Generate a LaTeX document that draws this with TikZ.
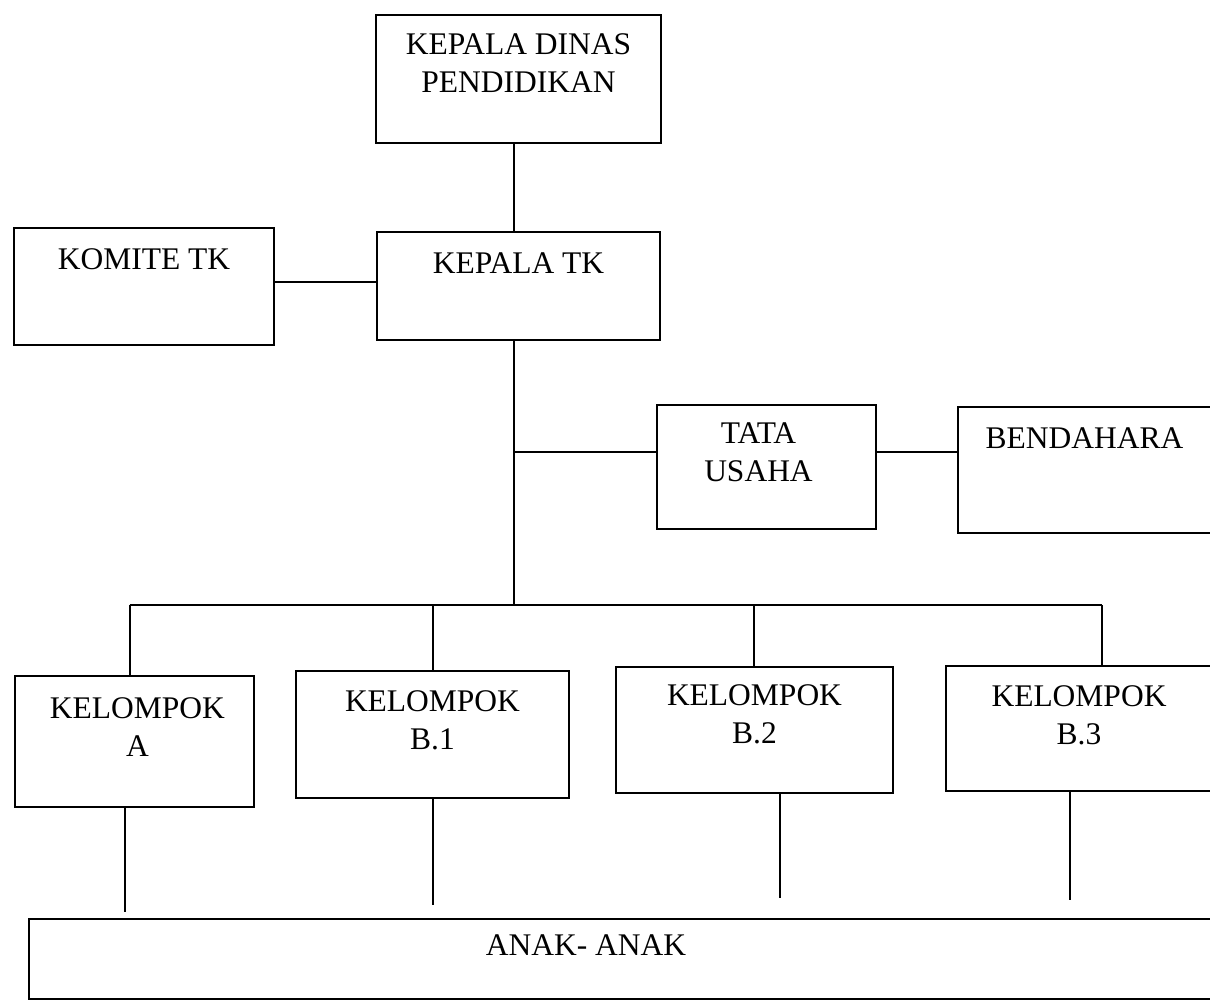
\documentclass[tikz,border=0pt]{standalone}
\usepackage{fontspec}
\setmainfont{Liberation Serif}
\usetikzlibrary{positioning}

\begin{document}
\begin{tikzpicture}[x=1pt, y=-1pt,
  box/.style={rectangle, draw, line width=2pt, anchor=north west, inner sep=0pt},
  lbl/.style={anchor=north, yshift=-21pt, inner sep=0pt, align=center, font=\fontsize{31.5}{38}\selectfont},
  conn/.style={line width=2pt}]
\clip (0,0) rectangle (1210,1007);
% pimpinan
\node[box, minimum width=285pt, minimum height=128pt, label={[lbl, yshift=2pt]north:KEPALA DINAS\\PENDIDIKAN}] (dinas) at (375,14) {};
\node[box, minimum width=283pt, minimum height=108pt, label={[lbl]north:KEPALA TK}] (kepala) at (376,231) {};
\node[box, minimum width=260pt, minimum height=117pt, label={[lbl]north:KOMITE TK}] (komite) at (13,227) {};
% staf
\node[box, minimum width=219pt, minimum height=124pt, label={[lbl, xshift=-8pt, yshift=3pt]north:TATA\\USAHA}] (tata) at (656,404) {};
\node[box, minimum width=283pt, minimum height=126pt, label={[lbl, xshift=-15pt]north:BENDAHARA}] (bendahara) at (957,406) {};
% kelompok
\node[box, minimum width=239pt, minimum height=131pt, label={[lbl, xshift=3pt, yshift=-1pt]north:KELOMPOK\\A}] (kelA) at (14,675) {};
\node[box, minimum width=273pt, minimum height=127pt, label={[lbl, yshift=1pt]north:KELOMPOK\\B.1}] (kelB1) at (295,670) {};
\node[box, minimum width=277pt, minimum height=126pt, label={[lbl, yshift=3pt]north:KELOMPOK\\B.2}] (kelB2) at (615,666) {};
\node[box, minimum width=312pt, minimum height=125pt, label={[lbl, xshift=-23pt, yshift=1pt]north:KELOMPOK\\B.3}] (kelB3) at (945,665) {};
\node[box, minimum width=1212pt, minimum height=80pt, label={[lbl, xshift=-49pt, yshift=5pt]north:ANAK- ANAK}] (anak) at (28,918) {};

\coordinate (bus) at ([xshift=-5pt]kepala.south |- 0,605);
\coordinate (km) at ([yshift=5pt]komite.east);
\coordinate (tu) at ([yshift=15pt]tata.west);
\coordinate (bd) at ([yshift=15pt]tata.east);

\draw[conn] (bus |- dinas.south) -- (bus |- kepala.north);
\draw[conn] (km) -- (km -| kepala.west);
\draw[conn] (bus |- kepala.south) -- (bus);
\draw[conn] (bus |- tu) -- (tu);
\draw[conn] (bd) -- (bd -| bendahara.west);
\draw[conn] ([xshift=-5pt]kelA.north |- bus) -- (kelB3.north |- bus);
\foreach \k/\dx in {kelA/-5, kelB1/0, kelB2/-1, kelB3/0}
  \draw[conn] ([xshift=\dx pt]\k.north |- bus) -- ([xshift=\dx pt]\k.north);
\foreach \k/\x/\y in {kelA/125/912, kelB1/433/905, kelB2/780/898, kelB3/1070/900} {
  \coordinate (end\k) at (\x,\y);
  \draw[conn] (end\k |- \k.south) -- (end\k);
}
\end{tikzpicture}
\end{document}
